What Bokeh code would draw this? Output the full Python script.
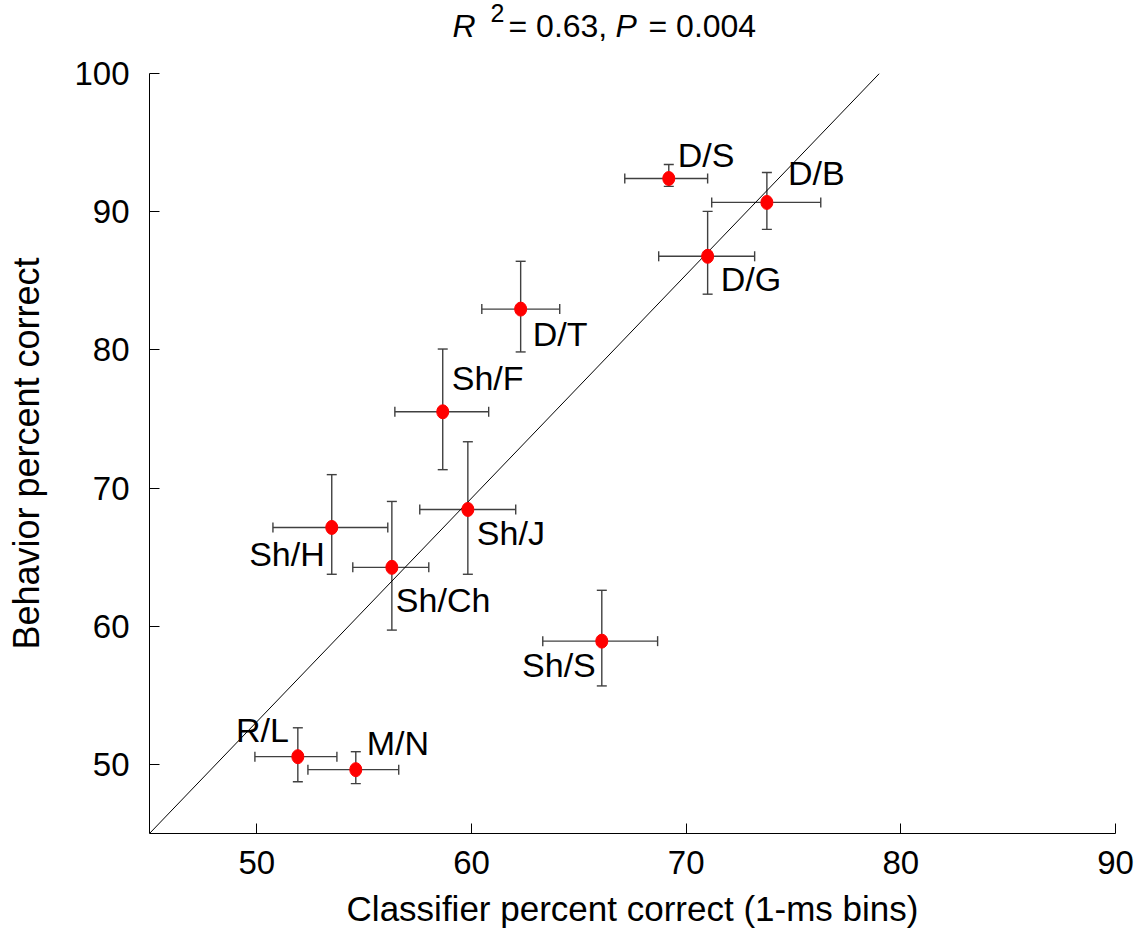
from bokeh.plotting import figure
from bokeh.layouts import column
from bokeh.models import ColumnDataSource, Whisker, TeeHead, FixedTicker, Range1d
from bokeh.core.properties import value
from bokeh.embed import file_html
from bokeh.resources import INLINE

# ---- data ----
pairs = ["D/S", "D/B", "D/G", "D/T", "Sh/F", "Sh/J", "Sh/H", "Sh/Ch", "Sh/S", "R/L", "M/N"]
classifier = [69.19, 73.76, 71.00, 62.29, 58.66, 59.83, 53.49, 56.29, 66.07, 51.91, 54.61]
classifier_lo = [67.14, 71.19, 68.72, 60.48, 56.43, 57.59, 50.75, 54.47, 63.32, 49.91, 52.38]
classifier_hi = [71.00, 76.27, 73.19, 64.11, 60.80, 62.06, 56.10, 58.01, 68.67, 53.73, 56.61]
behavior = [92.40, 90.67, 86.77, 82.95, 75.52, 68.45, 67.15, 64.26, 58.92, 50.56, 49.62]
behavior_lo = [91.83, 88.72, 84.03, 79.85, 71.33, 63.76, 63.76, 59.72, 55.68, 48.75, 48.61]
behavior_hi = [93.41, 92.84, 90.02, 86.41, 80.06, 73.35, 70.97, 69.03, 62.60, 52.65, 50.92]

fit_x = [45.0, 79.0]
fit_y = [45.0, 100.0]

x_ticks = [50, 60, 70, 80, 90]
y_ticks = [50, 60, 70, 80, 90, 100]

title_parts = ["R", "2", "= 0.63,", "P", "= 0.004"]

# ---- label placement (screen pixels, styling only) ----
BASE_FIX = -12  # renderer's alphabetic baseline sits lower than expected
lab_dx = [9, 21, 13, 12, 9, 9, -7, 4, -6, -9, 11]
lab_dy = [d + BASE_FIX for d in [-12, -17, 35, 37, -22, 36, 39, 45, 36, -15, -15]]
lab_align = ["left", "left", "left", "left", "left", "left", "right", "left", "right", "right", "left"]

FONT = "Liberation Sans"
W = 1138
TOP_H = 48

title_dx = [303, 341, 359, 466, 499]
title_dy = [b - TOP_H + BASE_FIX for b in [37, 24, 37, 37, 37]]
title_style = ["italic", "normal", "normal", "italic", "normal"]
title_size = ["32px", "25px", "32px", "32px", "32px"]

# ---- title strip (shares the x scale with the plot) ----
xr = Range1d(45, 90)
top = figure(width=W, height=TOP_H, output_backend="svg", toolbar_location=None,
             x_range=xr, y_range=Range1d(0, 1), x_axis_type=None, y_axis_type=None,
             min_border_left=149, min_border_right=23, min_border_top=0, min_border_bottom=0)
top.outline_line_color = None
top.grid.visible = False
for t, dx, dy, st, sz in zip(title_parts, title_dx, title_dy, title_style, title_size):
    top.text(x=[45.0], y=[0.0], text=[t], x_offset=dx, y_offset=dy,
             text_font=value(FONT), text_font_style=st, text_font_size=value(sz),
             text_align="left", text_baseline="alphabetic", text_color="black")

# ---- main plot ----
p = figure(width=W, height=930 - TOP_H, output_backend="svg", toolbar_location=None,
           x_range=xr, y_range=Range1d(45, 100),
           min_border_left=149, min_border_right=23, min_border_top=73 - TOP_H,
           min_border_bottom=95)
p.outline_line_color = None
p.grid.visible = False
p.background_fill_color = "white"
p.border_fill_color = "white"

src = ColumnDataSource(dict(pair=pairs, x=classifier, xl=classifier_lo, xh=classifier_hi,
                            y=behavior, yl=behavior_lo, yh=behavior_hi,
                            dx=lab_dx, dy=lab_dy, al=lab_align))

# regression line
p.line(fit_x, fit_y, line_color="black", line_width=1)

# error bars
err_col = "#404040"
vw = Whisker(source=src, base="x", upper="yh", lower="yl", dimension="height",
             line_color=err_col, line_width=1.4,
             upper_head=TeeHead(size=10, line_color=err_col, line_width=1.4),
             lower_head=TeeHead(size=10, line_color=err_col, line_width=1.4))
hw = Whisker(source=src, base="y", upper="xh", lower="xl", dimension="width",
             line_color=err_col, line_width=1.4,
             upper_head=TeeHead(size=10, line_color=err_col, line_width=1.4),
             lower_head=TeeHead(size=10, line_color=err_col, line_width=1.4))
p.add_layout(vw)
p.add_layout(hw)

# points
p.ellipse(x="x", y="y", width=12, height=14, width_units="screen", height_units="screen",
          source=src, fill_color="#ff0000", line_color="#ff0000")

# point labels
p.text(x="x", y="y", text="pair", x_offset="dx", y_offset="dy", text_align="al",
       text_baseline="alphabetic", text_font=value(FONT), text_font_size="34px",
       text_color="black", source=src)

# axes
for ax in (p.xaxis[0], p.yaxis[0]):
    ax.major_tick_in = 10
    ax.major_tick_out = 0
    ax.minor_tick_line_color = None
    ax.axis_line_color = "black"
    ax.major_tick_line_color = "black"
    ax.major_label_text_font = FONT
    ax.major_label_text_font_size = "33px"
    ax.major_label_text_color = "black"
    ax.axis_label_text_font = FONT
    ax.axis_label_text_font_style = "normal"
    ax.axis_label_text_color = "black"

p.xaxis.ticker = FixedTicker(ticks=x_ticks)
p.yaxis.ticker = FixedTicker(ticks=y_ticks)
p.xaxis.axis_label = "Classifier percent correct (1-ms bins)"
p.yaxis.axis_label = "Behavior percent correct"
p.xaxis.axis_label_text_font_size = "35px"
p.yaxis.axis_label_text_font_size = "36px"
p.xaxis.major_label_standoff = 17
p.yaxis.major_label_standoff = 20
p.xaxis.axis_label_standoff = 12
p.yaxis.axis_label_standoff = 24

layout = column(top, p, spacing=0)
open("out.html", "w").write(file_html(layout, INLINE))
